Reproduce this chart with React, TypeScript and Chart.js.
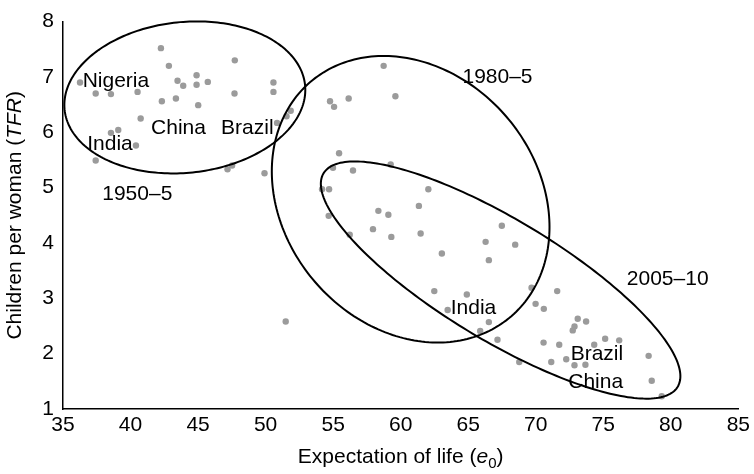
import React, { useEffect, useRef } from "react";
import { Chart, registerables } from "chart.js";

Chart.register(...registerables);

// Expectation of life (e0) and total fertility rate (TFR) per country, three periods
const e0_1950 = [42.25, 42.84, 47.72, 36.26, 43.48, 43.9, 44.89, 44.89, 45.72, 50.58, 50.58, 37.42, 38.55, 40.52, 42.32, 43.36, 47.7, 45.01, 40.75, 38.55, 39.09, 40.4, 37.42, 47.18, 47.52, 49.92, 50.85, 51.55, 51.86];
const tfr_1950 = [7.52, 7.2, 7.3, 6.9, 6.93, 6.84, 7.03, 6.86, 6.91, 6.9, 6.73, 6.7, 6.69, 6.73, 6.56, 6.61, 6.7, 6.49, 6.25, 5.99, 6.04, 5.76, 5.49, 5.33, 5.4, 5.26, 6.17, 6.29, 6.39];

const e0_1980 = [58.74, 59.61, 54.77, 55.07, 56.15, 55.44, 54.99, 56.47, 59.26, 54.18, 54.7, 62.05, 61.35, 54.67, 58.35, 59.09, 57.95, 59.31, 61.48, 56.23, 63.05, 67.49, 66.29, 68.48, 66.53];
const tfr_1980 = [7.2, 6.65, 6.56, 6.46, 6.61, 5.62, 5.36, 5.31, 5.42, 4.97, 4.97, 4.97, 4.67, 4.49, 4.58, 4.51, 4.25, 4.11, 4.17, 4.15, 3.81, 4.31, 4.02, 3.97, 3.69];

const e0_2005 = [62.49, 64.9, 63.48, 69.69, 71.59, 69.99, 70.6, 73.11, 73.73, 72.87, 72.74, 66.53, 65.89, 67.17, 70.58, 71.74, 74.33, 75.14, 76.18, 68.78, 71.15, 72.26, 72.87, 73.68, 78.36, 78.59, 79.33, 51.49];
const tfr_2005 = [3.13, 3.07, 2.79, 3.19, 3.13, 2.9, 2.81, 2.63, 2.58, 2.49, 2.42, 2.57, 2.41, 2.25, 2.2, 2.16, 2.16, 2.27, 2.24, 1.85, 1.85, 1.9, 1.79, 1.8, 1.96, 1.51, 1.23, 2.58];

// Period envelopes: centre and two conjugate semi-axis vectors, in data units
const ellipseCentres = [[44.02, 6.63], [60.74, 4.79], [67.4, 3.33]];
const ellipseAxisU = [[8.9, 0.226], [10.28, -0.503], [13.31, -1.738]];
const ellipseAxisV = [[0.587, -1.355], [0, -2.539], [0, -1.254]];

// Text annotations (cap-centre positions in data units)
const labelTexts = ["Nigeria", "China", "Brazil", "India", "1950–5", "1980–5", "2005–10", "India", "Brazil", "China"];
const labelX = [38.92, 43.55, 48.65, 38.48, 40.5, 67.17, 79.77, 65.39, 74.53, 74.44];
const labelY = [6.96, 6.1, 6.1, 5.81, 4.92, 7.03, 3.37, 2.85, 2.03, 1.52];

const xTicks = [35, 40, 45, 50, 55, 60, 65, 70, 75, 80, 85];
const yTicks = [1, 2, 3, 4, 5, 6, 7, 8];

const FONT = '"Liberation Sans", Arial, Helvetica, sans-serif';
const FS = 21;

const toPoints = (xs: number[], ys: number[]) => xs.map((x, i) => ({ x, y: ys[i] }));

const overlayPlugin = {
  id: "overlay",
  afterDatasetsDraw(chart: any) {
    const { ctx, scales, chartArea } = chart;
    const xs = scales.x;
    const ys = scales.y;
    ctx.save();
    // ellipses
    ctx.strokeStyle = "#000";
    ctx.lineWidth = 2;
    for (let k = 0; k < ellipseCentres.length; k++) {
      const [cx, cy] = ellipseCentres[k];
      const [ux, uy] = ellipseAxisU[k];
      const [vx, vy] = ellipseAxisV[k];
      ctx.beginPath();
      const N = 240;
      for (let i = 0; i <= N; i++) {
        const t = (i / N) * Math.PI * 2;
        const dx = cx + Math.cos(t) * ux + Math.sin(t) * vx;
        const dy = cy + Math.cos(t) * uy + Math.sin(t) * vy;
        const px = xs.getPixelForValue(dx);
        const py = ys.getPixelForValue(dy);
        if (i === 0) ctx.moveTo(px, py);
        else ctx.lineTo(px, py);
      }
      ctx.closePath();
      ctx.stroke();
    }
    // labels
    ctx.fillStyle = "#000";
    ctx.font = `${FS}px ${FONT}`;
    ctx.textAlign = "center";
    ctx.textBaseline = "alphabetic";
    for (let i = 0; i < labelTexts.length; i++) {
      const px = xs.getPixelForValue(labelX[i]);
      const py = ys.getPixelForValue(labelY[i]);
      ctx.fillText(labelTexts[i], px, py + FS * 0.36);
    }

    const drawParts = (ps: [string, string, number][], cx: number, by: number) => {
      let total = 0;
      const widths = ps.map(([t, f]) => {
        ctx.font = f;
        const w = ctx.measureText(t).width;
        total += w;
        return w;
      });
      let x = cx - total / 2;
      ctx.textAlign = "left";
      ps.forEach(([t, f, off], i) => {
        ctx.font = f;
        ctx.fillText(t, x, by + off);
        x += widths[i];
      });
    };

    // x axis title with italic e and subscript 0
    drawParts(
      [
        ["Expectation of life (", `${FS}px ${FONT}`, 0],
        ["e", `italic ${FS}px ${FONT}`, 0],
        ["0", `${Math.round(FS * 0.7)}px ${FONT}`, 5],
        [")", `${FS}px ${FONT}`, 0],
      ],
      (chartArea.left + chartArea.right) / 2,
      463
    );

    // y axis title with italic TFR
    ctx.save();
    ctx.translate(21, (chartArea.top + chartArea.bottom) / 2);
    ctx.rotate(-Math.PI / 2);
    drawParts(
      [
        ["Children per woman (", `${FS}px ${FONT}`, 0],
        ["TFR", `italic ${FS}px ${FONT}`, 0],
        [")", `${FS}px ${FONT}`, 0],
      ],
      0,
      0
    );
    ctx.restore();
    ctx.restore();
  },
};

export default function App() {
  const ref = useRef<HTMLCanvasElement | null>(null);
  useEffect(() => {
    if (!ref.current) return;
    const chart = new Chart(ref.current, {
      type: "scatter",
      data: {
        datasets: [
          { label: "1950–5", data: toPoints(e0_1950, tfr_1950) },
          { label: "1980–5", data: toPoints(e0_1980, tfr_1980) },
          { label: "2005–10", data: toPoints(e0_2005, tfr_2005) },
        ].map((d) => ({
          ...d,
          pointRadius: 3.2,
          pointBackgroundColor: "#9b9b9b",
          pointBorderWidth: 0,
          pointBorderColor: "#9b9b9b",
        })),
      },
      options: {
        animation: false,
        responsive: false,
        layout: { padding: { top: 18, right: 15, left: 0, bottom: 0 } },
        plugins: { legend: { display: false }, tooltip: { enabled: false } },
        scales: {
          x: {
            type: "linear",
            min: 35,
            max: 85,
            afterBuildTicks: (s: any) => {
              s.ticks = xTicks.map((v) => ({ value: v }));
            },
            afterFit: (s: any) => {
              s.height = 65;
            },
            grid: { display: false, drawTicks: false },
            border: { display: true, color: "#000", width: 1.5 },
            ticks: { color: "#000", font: { family: FONT, size: FS }, padding: 4, maxRotation: 0 },
          },
          y: {
            type: "linear",
            min: 1,
            max: 8,
            afterBuildTicks: (s: any) => {
              s.ticks = yTicks.map((v) => ({ value: v }));
            },
            afterFit: (s: any) => {
              s.width = 63;
            },
            grid: { display: false, drawTicks: false },
            border: { display: true, color: "#000", width: 1.5 },
            ticks: { color: "#000", font: { family: FONT, size: FS }, padding: 9 },
          },
        },
      },
      plugins: [overlayPlugin],
    } as any);
    return () => chart.destroy();
  }, []);
  return (
    <div style={{ position: "fixed", left: 0, top: 0, width: 754, height: 474, background: "#fff" }}>
      <canvas ref={ref} width={754} height={474} style={{ display: "block" }} />
    </div>
  );
}
